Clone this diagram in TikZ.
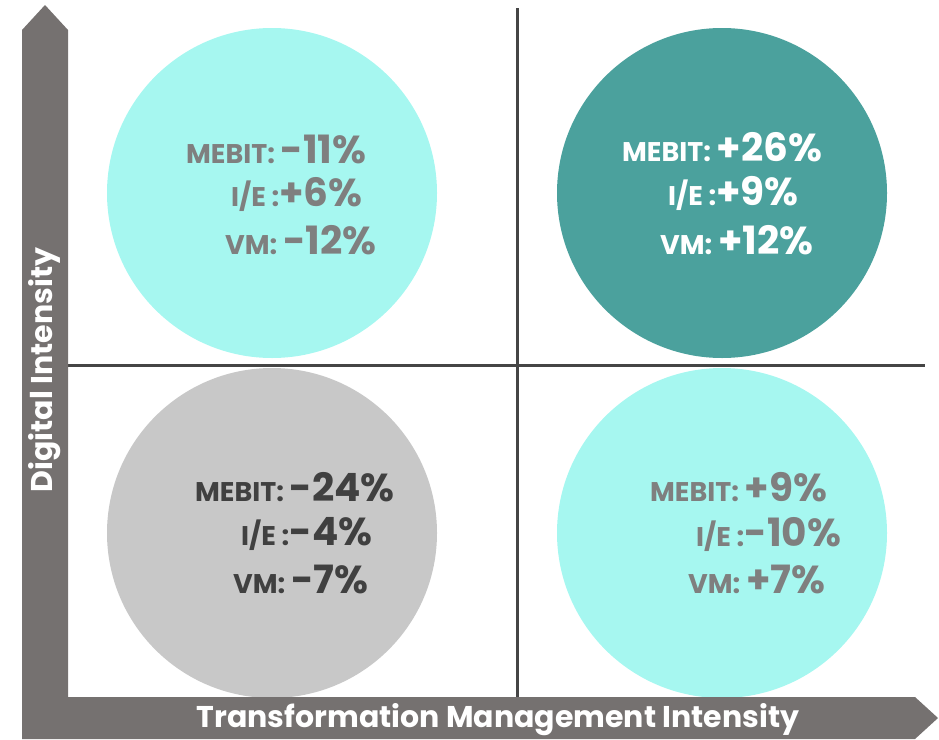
\documentclass[tikz,border=0pt]{standalone}
\usepackage{fontspec}
\setmainfont{Poppins}
\definecolor{axisgrey}{HTML}{757170}
\definecolor{lightcyan}{HTML}{A6F7F0}
\definecolor{tealc}{HTML}{4BA19D}
\definecolor{lightgrey}{HTML}{C8C8C8}
\definecolor{txtgrey}{HTML}{7F7F7F}
\definecolor{txtdark}{HTML}{404040}
\definecolor{linec}{HTML}{454545}
\tikzset{
  quad/.style={circle, minimum size=330pt, inner sep=0pt, draw=none},
  lab/.style={anchor=west, inner sep=0pt, font=\bfseries},
  axlab/.style={text=white, font=\bfseries\fontsize{30}{32}\selectfont, inner sep=0pt},
  divline/.style={draw=linec, line width=3pt}
}
\newcommand{\lbl}[2]{{\fontsize{27}{28}\selectfont #1}{\fontsize{39}{42}\selectfont #2}}
\begin{document}
\begin{tikzpicture}[x=1pt,y=-1pt]
\useasboundingbox (0,0) rectangle (939,739);
% circles
\node[quad, fill=lightcyan] (tl) at (272,193) {};
\node[quad, fill=tealc] (tr) at (722,193) {};
\node[quad, fill=lightgrey] (bl) at (272,533) {};
\node[quad, fill=lightcyan] (br) at (722,533) {};
% divider lines
\coordinate (vtop) at (517,8);
\coordinate (vbot) at (517,697);
\coordinate (hl) at (68,365);
\coordinate (hr) at (925,365);
\draw[divline] (vtop) -- (vbot);
\draw[divline] (hl) -- (hr);
% axes
\fill[axisgrey] (22,739) -- (22,30) -- (45,5) -- (68,30) -- (68,697) -- (915,697) -- (938,718) -- (915,739) -- cycle;
\node[axlab, rotate=90] (ylab) at (45,370) {Digital Intensity};
\node[axlab] (xlab) at (498,720) {Transformation Management Intensity};
% TL
\node[lab, text=txtgrey] (tl1) at (186,149) {\lbl{MEBIT: }{-11\%}};
\node[lab, text=txtgrey] (tl2) at (231,194) {\lbl{I/E :}{+6\%}};
\node[lab, text=txtgrey] (tl3) at (225,240) {\lbl{VM: }{-12\%}};
% TR
\node[lab, text=white] (tr1) at (622,147) {\lbl{MEBIT: }{+26\%}};
\node[lab, text=white] (tr2) at (668,193) {\lbl{I/E :}{+9\%}};
\node[lab, text=white] (tr3) at (660,240) {\lbl{VM: }{+12\%}};
% BL
\node[lab, text=txtdark] (bl1) at (195,487) {\lbl{MEBIT: }{-24\%}};
\node[lab, text=txtdark] (bl2) at (241,534) {\lbl{I/E :}{-4\%}};
\node[lab, text=txtdark] (bl3) at (233,579) {\lbl{VM: }{-7\%}};
% BR
\node[lab, text=txtgrey] (br1) at (650,487) {\lbl{MEBIT: }{+9\%}};
\node[lab, text=txtgrey] (br2) at (696,534) {\lbl{I/E :}{-10\%}};
\node[lab, text=txtgrey] (br3) at (688,579) {\lbl{VM: }{+7\%}};
\end{tikzpicture}
\end{document}
